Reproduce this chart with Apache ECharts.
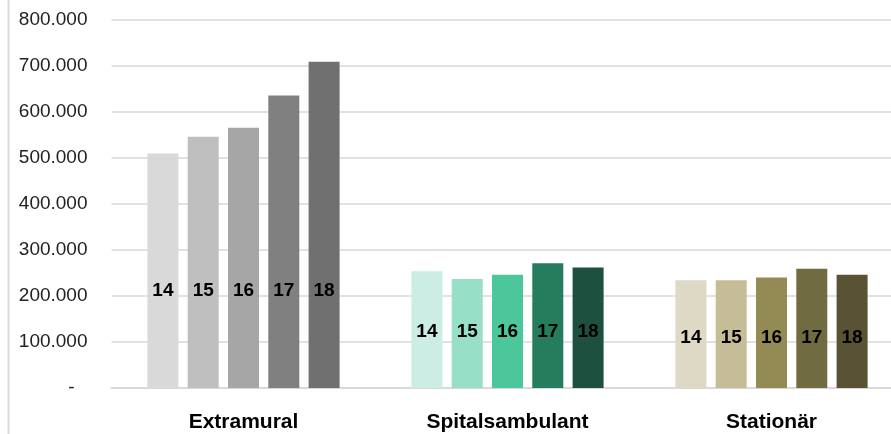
<!DOCTYPE html>
<html>
<head>
<meta charset="utf-8">
<script src="https://cdn.jsdelivr.net/npm/echarts@6/dist/echarts.min.js"></script>
<style>
  html, body { margin: 0; padding: 0; background: #fff; }
  #chart { width: 891px; height: 434px; }
</style>
</head>
<body>
<div id="chart"></div>
<script>
// categories and years (series names shown inside the bars)
const categories = ['Extramural', 'Spitalsambulant', 'Stationär'];
const years = ['14', '15', '16', '17', '18'];

// values per category, one entry per year 14..18
const extramural = [510000, 546000, 566000, 636000, 709000];
const spitalsambulant = [254000, 237000, 246000, 271000, 262000];
const stationaer = [234000, 234000, 240000, 259000, 246000];

// y axis ticks
const yMax = 800000;
const yStep = 100000;

// colours, one palette per category
const greys = ['#d9d9d9', '#bfbfbf', '#a6a6a6', '#808080', '#707070'];
const greens = ['#ccede3', '#97dfc6', '#4cc69b', '#267d5e', '#1d503f'];
const olives = ['#ddd9c4', '#c4bd97', '#948a54', '#716b42', '#5a5234'];

// how high the year label sits above the bar base, per category
const labelLift = [88, 47, 41];

const values = [extramural, spitalsambulant, stationaer];
const palettes = [greys, greens, olives];
const font = '"Liberation Sans", Arial, sans-serif';

var myChart = echarts.init(document.getElementById('chart'), null, { renderer: 'canvas' });

const seriesList = years.map(function (year, i) {
    return {
        type: 'bar',
        name: year,
        barWidth: 31,
        barGap: '30%',
        animation: false,
        data: categories.map(function (cat, c) {
            return {
                value: values[c][i],
                itemStyle: { color: palettes[c][i] },
                label: { distance: labelLift[c] }
            };
        }),
        label: {
            show: true,
            position: 'insideBottom',
            formatter: '{a}',
            color: '#000',
            fontWeight: 'bold',
            fontSize: 19,
            fontFamily: font
        }
    };
});

var option = {
    backgroundColor: '#fff',
    animation: false,
    grid: {
        left: 111.5,
        top: 20,
        width: 792,
        bottom: 46,
        containLabel: false,
        outerBoundsMode: 'none'
    },
    xAxis: {
        type: 'category',
        data: categories,
        axisTick: { show: false },
        axisLine: { lineStyle: { color: '#d9d9d9', width: 2 } },
        axisLabel: {
            margin: 24,
            color: '#000',
            fontWeight: 'bold',
            fontSize: 21,
            fontFamily: font
        }
    },
    yAxis: {
        type: 'value',
        min: 0,
        max: yMax,
        interval: yStep,
        axisLine: { show: false },
        axisTick: { show: false },
        splitLine: { lineStyle: { color: '#d9d9d9', width: 1.5 } },
        axisLabel: {
            margin: 24,
            color: '#222',
            fontSize: 19,
            fontFamily: font,
            formatter: function (v) {
                if (v === 0) return '{d|-}';
                return String(v).replace(/\B(?=(\d{3})+(?!\d))/g, '.');
            },
            rich: {
                d: { padding: [0, 13, 0, 0], fontSize: 19, fontFamily: font, color: '#222' }
            }
        }
    },
    graphic: [{
        type: 'line',
        shape: { x1: 8.5, y1: 0, x2: 8.5, y2: 434 },
        style: { stroke: '#d9d9d9', lineWidth: 2 }
    }],
    series: seriesList
};
myChart.setOption(option);
</script>
</body>
</html>
